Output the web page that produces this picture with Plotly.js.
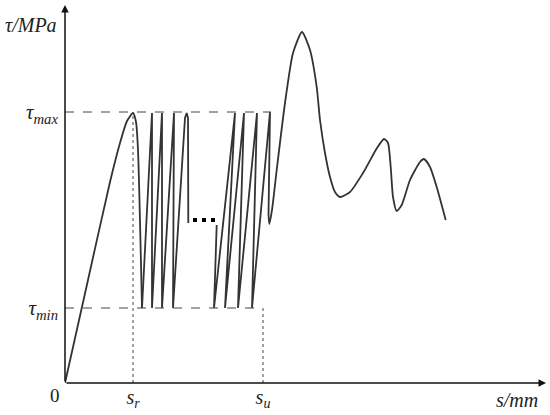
<!DOCTYPE html>
<html>
<head>
<meta charset="utf-8">
<script src="https://cdn.plot.ly/plotly-3.0.1.min.js"></script>
<style>body{margin:0;background:#fff}</style>
</head>
<body>
<div id="plotDiv" style="width:550px;height:415px"></div>
<script>
// key levels (schematic units)
var tauMax = 271;
var tauMin = 75;
var sR = 68;
var sU = 198;

// loading branch up to first peak
var riseX = [0, 23, 45, 55, 62, 68, 71, 73, 77];
var riseY = [0, 103, 201, 240, 262, 270, 261, 233, 75];

// cycles before the gap
var zigLeftX = [77, 87, 87, 97, 97, 109, 108, 120, 121.7, 123, 123.3];
var zigLeftY = [75, 270, 75, 270, 75, 270, 75, 265, 270, 265, 160];

// "..."
var dotsX = [130, 139, 148];
var dotsY = [163, 163, 163];

// cycles after the gap
var zigRightX = [151.7, 149, 170, 160, 179, 173, 192, 187, 205, 203.5];
var zigRightY = [158, 75, 270, 75, 270, 75, 270, 75, 271, 168];

// post-cycling curve
var tailX = [203.5, 204.3, 207, 211.7, 220, 228, 237, 245, 251.7, 255, 260, 265, 270, 275, 285, 298, 312, 319, 323, 325.7, 328, 331.7, 336.7, 345, 355, 359, 365, 371.7, 380.7];
var tailY = [168, 159, 173, 213, 280, 330, 351, 333, 296, 263, 230, 206, 191, 186, 191, 210, 235, 244, 240, 216, 186, 172, 178, 203, 221, 224, 216, 196, 163];

var lineCol = '#333';
var serif = 'Liberation Serif';

var trace1 = {x: riseX, y: riseY, mode: 'lines', type: 'scatter',
    line: {color: lineCol, width: 1.8, shape: 'spline', smoothing: 0.6}};
var trace2 = {x: zigLeftX, y: zigLeftY, mode: 'lines', type: 'scatter',
    line: {color: lineCol, width: 1.8}};
var trace3 = {x: zigRightX, y: zigRightY, mode: 'lines', type: 'scatter',
    line: {color: lineCol, width: 1.8}};
var trace4 = {x: tailX, y: tailY, mode: 'lines', type: 'scatter',
    line: {color: lineCol, width: 1.8, shape: 'spline', smoothing: 0.6}};
var trace5 = {x: dotsX, y: dotsY, mode: 'markers', type: 'scatter',
    marker: {symbol: 'square', size: 4, color: '#000'}};

var data = [trace1, trace2, trace3, trace4, trace5];

var dash = {color: '#444', width: 1, dash: 'dash'};
var dot = {color: '#444', width: 1, dash: 'dot'};

var layout = {
    width: 550, height: 415,
    margin: {l: 65, r: 5, t: 5, b: 32},
    showlegend: false,
    paper_bgcolor: '#fff', plot_bgcolor: '#fff',
    xaxis: {range: [0, 480], showgrid: false, zeroline: false, showline: false,
        tickvals: [sR, sU], ticktext: ['<i>s<sub>r</sub></i>', '<i>s<sub>u</sub></i>'],
        ticks: '', tickfont: {family: serif, size: 20, color: '#222'}},
    yaxis: {range: [0, 378], showgrid: false, zeroline: false, showline: false,
        tickvals: [tauMin, tauMax], ticktext: ['<i>τ<sub>min</sub></i>', '<i>τ<sub>max</sub></i>'],
        ticks: '', ticklabelstandoff: 6, tickfont: {family: serif, size: 21, color: '#222'}},
    shapes: [
        {type: 'line', x0: 0, x1: 206, y0: tauMax, y1: tauMax, line: dash},
        {type: 'line', x0: 0, x1: sU, y0: tauMin, y1: tauMin, line: dash},
        {type: 'line', x0: sR, x1: sR, y0: 0, y1: tauMax, line: dot},
        {type: 'line', x0: sU, x1: sU, y0: 0, y1: tauMin, line: dot}
    ],
    annotations: [
        {x: 0, y: 378, ax: 0, ay: 0, axref: 'x', ayref: 'y', xref: 'x', yref: 'y', text: '',
            showarrow: true, arrowhead: 2, arrowsize: 1, arrowwidth: 1.5, arrowcolor: '#111'},
        {x: 481, y: 0, ax: 0, ay: 0, axref: 'x', ayref: 'y', xref: 'x', yref: 'y', text: '',
            showarrow: true, arrowhead: 2, arrowsize: 1, arrowwidth: 1.5, arrowcolor: '#111'},
        {x: -0.071, y: 0.947, xref: 'paper', yref: 'paper', xanchor: 'center', yanchor: 'middle',
            text: '<i>τ/MPa</i>', showarrow: false, font: {family: serif, size: 20, color: '#222'}},
        {x: 0.942, y: -0.045, xref: 'paper', yref: 'paper', xanchor: 'center', yanchor: 'middle',
            text: '<i>s/mm</i>', showarrow: false, font: {family: serif, size: 20, color: '#222'}},
        {x: -0.021, y: -0.034, xref: 'paper', yref: 'paper', xanchor: 'center', yanchor: 'middle',
            text: '0', showarrow: false, font: {family: serif, size: 19, color: '#222'}}
    ]
};

Plotly.newPlot('plotDiv', data, layout, {displayModeBar: false, staticPlot: true});
</script>
</body>
</html>
